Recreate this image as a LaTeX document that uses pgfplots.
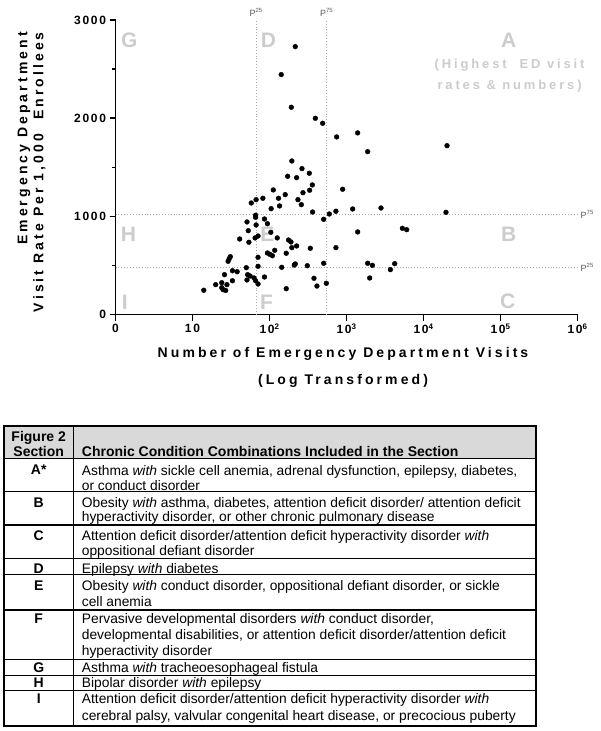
\documentclass[border=0pt]{standalone}
\usepackage{fontspec}
\setmainfont{Liberation Sans}
\newfontfamily\titlefont[LetterSpace=22]{Liberation Sans}
\newfontfamily\tickfont[LetterSpace=14]{Liberation Sans}
\usepackage{pgfplots}
\usepackage{pgfplotstable}
\pgfplotsset{compat=1.18}

\definecolor{zonegray}{RGB}{204,204,204}
\definecolor{pctline}{RGB}{170,170,170}
\definecolor{pcttext}{RGB}{90,90,90}
\definecolor{headfill}{RGB}{217,217,217}

% ED visits (count) vs visit rate per 1,000 enrollees, one row per combination
\pgfplotstableread{
visits rate
216 2729
142 2444
192 2111
394 1999
490 1948
745 1809
1396 1850
1884 1659
20200 1720
1202 1075
2805 1085
19600 1041
1396 841
5321 878
6053 864
1884 522
2168 501
4227 518
3715 457
2000 372
195 1564
264 1486
329 1439
172 1408
225 1394
360 1320
332 1266
112 1269
272 1241
160 1221
131 1184
234 1170
82 1184
67 1170
58 1136
259 1119
135 1106
105 1078
363 1044
891 1276
729 1052
598 1024
505 970
66 1011
66 990
86 973
51 943
94 925
67 912
53 854
104 838
71 800
65 780
41 769
54 736
126 780
177 759
190 739
195 681
225 698
339 675
729 681
117 654
94 627
109 599
101 613
165 624
71 583
31 589
30 569
29 542
71 491
144 481
210 504
216 515
310 497
505 522
50 477
33 446
38 436
52 406
56 392
26 406
51 352
63 372
66 344
71 311
86 382
33 344
28 304
20 304
24 324
24 273
25 253
27 245
14 247
165 263
378 369
413 290
547 318
}\edrates

\begin{document}
\begin{tikzpicture}[
    zone/.style={text=zonegray, font=\bfseries\fontsize{21}{21}\selectfont},
    pct/.style={text=pcttext, font=\fontsize{9}{9}\selectfont, inner sep=1pt},
    refl/.style={pctline, dotted, line width=0.9pt},
    cell/.style={anchor=base west, inner sep=0pt, font=\fontsize{13.8}{15}\selectfont},
    sec/.style={anchor=base, inner sep=0pt, font=\bfseries\fontsize{14}{15}\selectfont},
    ttl/.style={font=\titlefont\bfseries\fontsize{14}{14}\selectfont, inner sep=0pt}
]
\begin{axis}[
    at={(115.5pt,-314.5pt)}, anchor=south west,
    scale only axis, width=462pt, height=294.5pt,
    xmode=log, xmin=1, xmax=1e6,
    ymin=0, ymax=3000,
    axis x line*=bottom, axis y line*=left,
    axis line style={black, line width=1.8pt},
    xtick={1,10,100,1000,10000,100000,1000000},
    xticklabels={0,10,10\textsuperscript{2},10\textsuperscript{3},10\textsuperscript{4},10\textsuperscript{5},10\textsuperscript{6}},
    xminorticks=false,
    ytick={0,1000,2000,3000},
    minor ytick={500,1500,2500},
    tick align=outside,
    major tick length=6pt, minor tick length=4pt,
    every tick/.style={black, line width=1.4pt},
    tick label style={font=\tickfont\bfseries\fontsize{12}{13}\selectfont},
    /pgf/number format/1000 sep={},
    /pgf/number format/assume math mode=true,
    clip=false,
]
% quadrant letters sit behind the points
\node[zone] at (rel axis cs:0.030,0.930) {G};
\node[zone] at (rel axis cs:0.331,0.930) {D};
\node[zone] at (rel axis cs:0.851,0.930) {A};
\node[text=zonegray, font=\titlefont\bfseries\fontsize{13}{20.7}\selectfont, align=center]
    at (rel axis cs:0.853,0.812) {(Highest~ ED visit\\rates \& numbers)};
\node[zone] at (rel axis cs:0.028,0.273) {H};
\node[zone] at (rel axis cs:0.329,0.273) {E};
\node[zone] at (rel axis cs:0.851,0.273) {B};
\node[zone] at (rel axis cs:0.020,0.040) {I};
\node[zone] at (rel axis cs:0.327,0.040) {F};
\node[zone] at (rel axis cs:0.849,0.045) {C};

% 25th / 75th percentile lines
\draw[refl] (axis cs:67,0) -- (axis cs:67,3000);
\draw[refl] (axis cs:552,0) -- (axis cs:552,3000);
\draw[refl] (axis cs:1,1020) -- (axis cs:1e6,1020);
\draw[refl] (axis cs:1,481) -- (axis cs:1e6,481);
\node[pct, anchor=south, yshift=2pt] at (axis cs:67,3000) {P\textsuperscript{25}};
\node[pct, anchor=south, yshift=2pt] at (axis cs:552,3000) {P\textsuperscript{75}};
\node[pct, anchor=west, xshift=2pt] at (axis cs:1e6,1020) {P\textsuperscript{75}};
\node[pct, anchor=west, xshift=2pt] at (axis cs:1e6,481) {P\textsuperscript{25}};

\addplot[only marks, mark=*, mark size=2.4pt, black] table[x=visits, y=rate] {\edrates};
\end{axis}

\begin{scope}[x=1pt, y=-1pt]
% axis titles
\node[ttl] at (343,354) {Number of Emergency Department Visits};
\node[ttl] at (343,381) {(Log Transformed)};
\node[ttl, rotate=90, anchor=east] at (24,32) {Emergency Department};
\node[ttl, rotate=90, anchor=east] at (39.5,32) {Visit Rate Per 1,000~ Enrollees};

% table of sections
\fill[headfill] (4,426) rectangle (535.8,458.3);
\foreach \yy in {458.3,491.7,525,558.3,574.3,610,659.3,675.3,690.7}
    \draw[line width=1.1pt] (4,\yy) -- (535.8,\yy);
\draw[line width=1.1pt] (73.3,426) -- (73.3,726);
\draw[line width=1.4pt] (4,426) rectangle (535.8,726);

\node[sec] at (38.7,441) {Figure 2};
\node[sec] at (38.7,456.5) {Section};
\node[sec, anchor=base west] at (81.7,456.5) {Chronic Condition Combinations Included in the Section};

\node[sec] at (38.7,474) {A*};
\node[cell] at (81.7,475) {Asthma \textit{with} sickle cell anemia, adrenal dysfunction, epilepsy, diabetes,};
\node[cell] at (81.7,490.5) {or conduct disorder};

\node[sec] at (38.7,507.5) {B};
\node[cell] at (81.7,507.5) {Obesity \textit{with} asthma, diabetes, attention deficit disorder/ attention deficit};
\node[cell] at (81.7,521.5) {hyperactivity disorder, or other chronic pulmonary disease};

\node[sec] at (38.7,540.7) {C};
\node[cell] at (81.7,540.7) {Attention deficit disorder/attention deficit hyperactivity disorder \textit{with}};
\node[cell] at (81.7,555) {oppositional defiant disorder};

\node[sec] at (38.7,573.3) {D};
\node[cell] at (81.7,573.3) {Epilepsy \textit{with} diabetes};

\node[sec] at (38.7,590) {E};
\node[cell] at (81.7,590) {Obesity \textit{with} conduct disorder, oppositional defiant disorder, or sickle};
\node[cell] at (81.7,606.5) {cell anemia};

\node[sec] at (38.7,623.3) {F};
\node[cell] at (81.7,623.3) {Pervasive developmental disorders \textit{with} conduct disorder,};
\node[cell] at (81.7,639.3) {developmental disabilities, or attention deficit disorder/attention deficit};
\node[cell] at (81.7,655) {hyperactivity disorder};

\node[sec] at (38.7,672.5) {G};
\node[cell] at (81.7,672.5) {Asthma \textit{with} tracheoesophageal fistula};

\node[sec] at (38.7,687.3) {H};
\node[cell] at (81.7,687.3) {Bipolar disorder \textit{with} epilepsy};

\node[sec] at (38.7,703.3) {I};
\node[cell] at (81.7,703.3) {Attention deficit disorder/attention deficit hyperactivity disorder \textit{with}};
\node[cell] at (81.7,720.5) {cerebral palsy, valvular congenital heart disease, or precocious puberty};
\end{scope}

\pgfresetboundingbox
\path[use as bounding box] (0pt,0pt) rectangle (600pt,-731pt);
\end{tikzpicture}
\end{document}
